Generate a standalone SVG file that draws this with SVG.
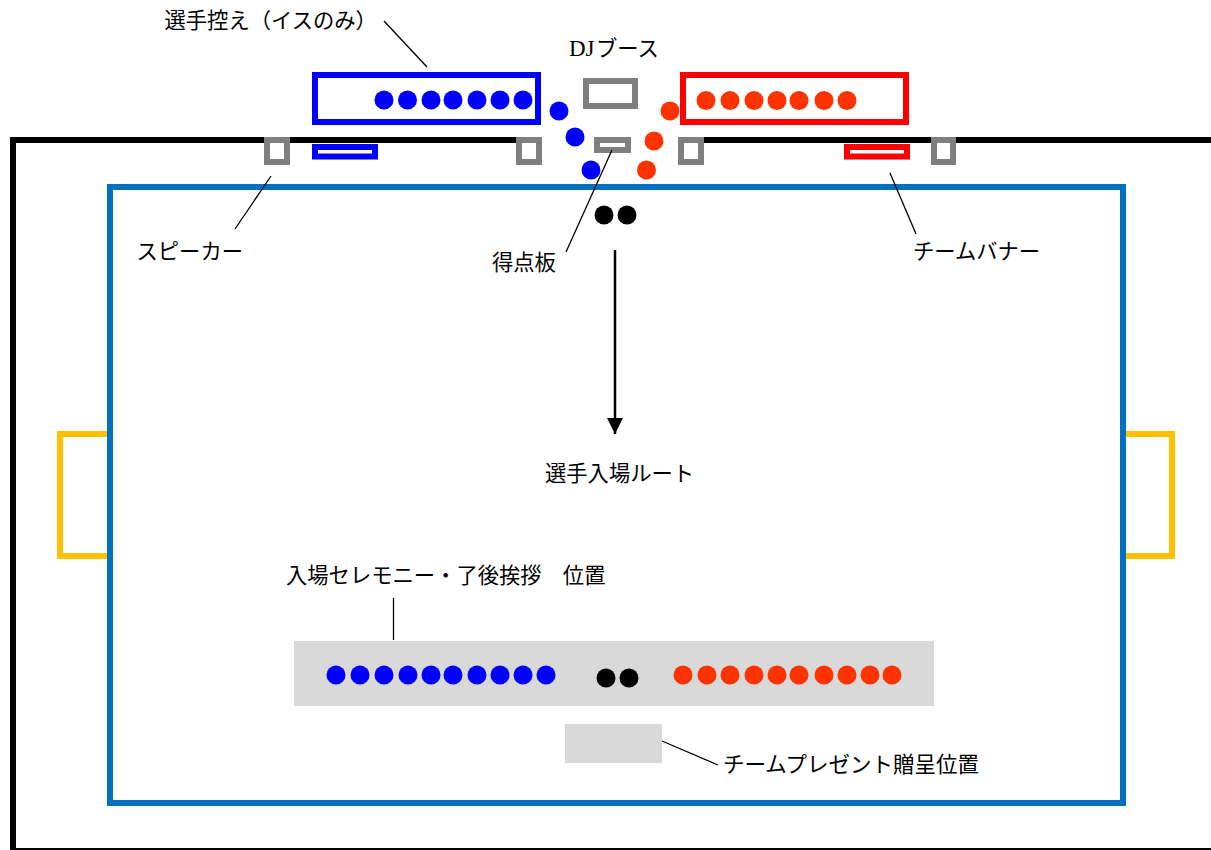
<svg xmlns="http://www.w3.org/2000/svg" width="1211" height="850" viewBox="0 0 1211 850">
<style>
text{font-family:"Noto Sans CJK JP","Noto Sans",sans-serif;font-size:21.3px;fill:#000}
.s{fill:none;stroke-width:6}
.g{fill:#fff;stroke:#7f7f7f;stroke-width:6}
.l{fill:none;stroke:#000;stroke-width:1.3}
.b{fill:#0000ff}.r{fill:#ff3300}.k{fill:#000}
.p{fill:#d9d9d9}
</style>
<defs><marker id="ah" markerUnits="userSpaceOnUse" markerWidth="16" markerHeight="16" refX="16" refY="8" orient="auto"><path d="M0 0L16 8L0 16Z" fill="#000"/></marker></defs>
<rect width="1211" height="850" fill="#fff"/>
<g id="hall"><path class="s" stroke="#000" d="M516 140H13V851H1211M678 140H1211"/></g>
<g id="goal-left"><path class="s" stroke="#ffc000" d="M107 434H60V556H107"/></g>
<g id="goal-right"><path class="s" stroke="#ffc000" d="M1126 434H1172V556H1126"/></g>
<g id="court"><rect class="s" stroke="#0070c0" x="110" y="187" width="1013" height="616"/></g>
<g id="bench-blue"><rect class="s" stroke="#0000ff" x="315" y="75" width="223" height="47"/>
<circle class="b" cx="384" cy="100" r="9.5"/><circle class="b" cx="407.500" cy="100" r="9.5"/><circle class="b" cx="431" cy="100" r="9.5"/><circle class="b" cx="453" cy="100" r="9.500"/><circle class="b" cx="477" cy="100" r="9.5"/><circle class="b" cx="500" cy="100" r="9.5"/><circle class="b" cx="523" cy="100" r="9.5"/></g>
<g id="bench-red"><rect class="s" stroke="#ff0000" x="683" y="75" width="223" height="47"/>
<circle class="r" cx="706" cy="100.500" r="9.5"/><circle class="r" cx="730" cy="100.500" r="9.5"/><circle class="r" cx="754" cy="100.500" r="9.5"/><circle class="r" cx="777" cy="100.500" r="9.5"/><circle class="r" cx="799" cy="100.500" r="9.5"/><circle class="r" cx="824" cy="100.500" r="9.5"/><circle class="r" cx="847" cy="100.500" r="9.5"/></g>
<g id="players-blue"><circle class="b" cx="559" cy="111" r="9.5"/><circle class="b" cx="575" cy="137" r="9.5"/><circle class="b" cx="591" cy="170" r="9.5"/></g>
<g id="players-red"><circle class="r" cx="670" cy="111" r="9.5"/><circle class="r" cx="654" cy="141" r="9.5"/><circle class="r" cx="646.500" cy="170" r="9.5"/></g>
<g id="refs-top"><circle class="k" cx="604" cy="215" r="9.5"/><circle class="k" cx="627" cy="215" r="9.5"/></g>
<g id="dj-booth"><rect class="g" x="586" y="81" width="49" height="25"/></g>
<g id="scoreboard"><rect class="g" x="597" y="140" width="31" height="10"/></g>
<g id="speaker-1"><rect class="g" x="267" y="140" width="20" height="22"/></g>
<g id="speaker-2"><rect class="g" x="519" y="140" width="20" height="22"/></g>
<g id="speaker-3"><rect class="g" x="681" y="140" width="20" height="22"/></g>
<g id="speaker-4"><rect class="g" x="934" y="140" width="19" height="22"/></g>
<g id="banner-blue"><rect class="s" stroke="#0000ff" x="315" y="147" width="60" height="9.500"/></g>
<g id="banner-red"><rect class="s" stroke="#ff0000" x="847" y="147" width="60" height="9.500"/></g>
<g id="ceremony"><rect class="p" x="294" y="641" width="640" height="65"/>
<circle class="b" cx="336" cy="675" r="9.5"/><circle class="b" cx="360" cy="675" r="9.5"/><circle class="b" cx="384" cy="675" r="9.5"/><circle class="b" cx="408" cy="675" r="9.5"/><circle class="b" cx="431" cy="675" r="9.5"/><circle class="b" cx="453" cy="675" r="9.5"/><circle class="b" cx="477" cy="675" r="9.5"/><circle class="b" cx="500" cy="675" r="9.5"/><circle class="b" cx="523" cy="675" r="9.5"/><circle class="b" cx="546" cy="675" r="9.5"/>
<circle class="k" cx="606" cy="678" r="9.5"/><circle class="k" cx="629" cy="678" r="9.5"/>
<circle class="r" cx="683" cy="675" r="9.5"/><circle class="r" cx="707" cy="675" r="9.5"/><circle class="r" cx="730" cy="675" r="9.5"/><circle class="r" cx="754" cy="675" r="9.5"/><circle class="r" cx="777" cy="675" r="9.5"/><circle class="r" cx="799" cy="675" r="9.5"/><circle class="r" cx="824" cy="675" r="9.5"/><circle class="r" cx="847" cy="675" r="9.5"/><circle class="r" cx="870" cy="675" r="9.5"/><circle class="r" cx="892" cy="675" r="9.5"/></g>
<g id="present"><rect class="p" x="565" y="724" width="97" height="39"/></g>
<g id="connectors">
<path class="l" d="M384 21L427 67"/>
<path class="l" d="M271 176L235 229"/>
<path class="l" d="M612 150L566 252"/>
<path class="l" d="M890 173L916 234"/>
<path class="l" d="M393.500 598V640"/>
<path class="l" d="M662 741L718 765"/>
<path fill="none" stroke="#000" stroke-width="2.500" d="M615 250V434" marker-end="url(#ah)"/>
</g>
<g id="labels">
<text x="164.500" y="28">選手控え（イスのみ）</text>
<text x="569" y="56" style="font-family:'Liberation Serif','Noto Sans CJK JP',serif;font-size:23px">DJ<tspan x="596" style="font-family:'Noto Sans CJK JP',sans-serif;font-size:21.3px">ブース</tspan></text>
<text x="136.500" y="259">スピーカー</text>
<text x="492" y="270">得点板</text>
<text x="913" y="259">チームバナー</text>
<text x="545" y="481">選手入場ルート</text>
<text x="286" y="583">入場セレモニー・了後挨拶　位置</text>
<text x="723" y="772" style="font-size:21.5px">チームプレゼント贈呈位置</text>
</g>
</svg>
